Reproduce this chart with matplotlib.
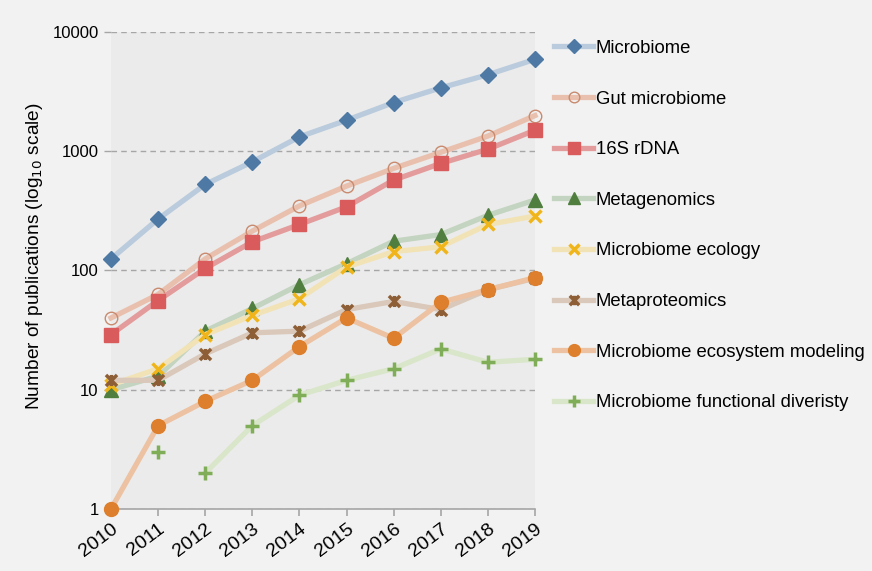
import numpy as np
import matplotlib as mpl
mpl.use('Agg')
import matplotlib.pyplot as plt
from matplotlib.path import Path

plt.rcParams['font.family'] = ['Liberation Sans', 'DejaVu Sans']

## Data ##
years = [2010, 2011, 2012, 2013, 2014, 2015, 2016, 2017, 2018, 2019]
names = ['Microbiome', 'Gut microbiome', '16S rDNA', 'Metagenomics',
         'Microbiome ecology', 'Metaproteomics',
         'Microbiome ecosystem modeling', 'Microbiome functional diveristy']
microbiome = [125, 270, 527, 815, 1320, 1820, 2560, 3400, 4380, 5900]
gut = [40, 63, 125, 214, 348, 510, 718, 980, 1340, 1990]
rdna16s = [29, 56, 104, 174, 243, 342, 573, 790, 1040, 1500]
metagenomics = [10, 13, 31, 48, 76, 114, 176, 200, 290, 390]
ecology = [11, 15, 29, 42, 58, 107, 144, 158, 243, 286]
metaproteomics = [12, 12, 20, 30, 31, 47, 55, 47, 69, 86]
ecosystem = [1, 5, 8, 12, 23, 40, 27, 54, 69, 87]
functional = [np.nan, 3, 2, 5, 9, 12, 15, 22, 17, 18]
yticks = [1, 10, 100, 1000, 10000]

## Styles ##
asterisk = Path([(-1, -1), (1, 1), (-1, 1), (1, -1), (0, -1), (0, 1)],
                [Path.MOVETO, Path.LINETO, Path.MOVETO, Path.LINETO,
                 Path.MOVETO, Path.LINETO])
series = [microbiome, gut, rdna16s, metagenomics, ecology, metaproteomics,
          ecosystem, functional]
lcol = ['#b9cbdc', '#e9c0ae', '#e39b9b', '#c3d4c0', '#f2e3b6', '#dac8ba',
        '#ecc2a2', '#d9e6c9']
mcol = ['#4e79a4', '#c98a6e', '#d95b5c', '#4f7e3f', '#f0b51a', '#8e5f36',
        '#dd7f2c', '#80ae58']
mk = ['D', 'o', 's', '^', 'x', asterisk, 'o', '+']
ms = [8, 9, 10, 10, 9, 8, 10, 10]

fig = plt.figure(figsize=(8.72, 5.71), dpi=100, facecolor='#f2f2f2')
ax = fig.add_axes([0.1273, 0.1086, 0.4862, 0.8354])
ax.set_facecolor('#ebebeb')

handles = []
for n in range(len(series)):
  y = np.array(series[n], dtype=float)
  filled = mk[n] in ['D', 's', '^'] or (mk[n] == 'o' and n != 1)
  mfc = mcol[n] if filled else 'none'
  mew = 2.5 if mk[n] in ['x', '+'] or n == 5 else 1.0
  if n == 7:
    # isolated first point, line starts 2012
    ax.plot(years[1:2], y[1:2], linestyle='none', marker=mk[n], ms=ms[n],
            mec=mcol[n], mfc=mfc, mew=mew, clip_on=False, zorder=3 + n)
    h, = ax.plot(years[2:], y[2:], color=lcol[n], lw=3.8, marker=mk[n],
                 ms=ms[n], mec=mcol[n], mfc=mfc, mew=mew, clip_on=False,
                 zorder=3 + n, label=names[n])
  else:
    h, = ax.plot(years, y, color=lcol[n], lw=3.8, marker=mk[n], ms=ms[n],
                 mec=mcol[n], mfc=mfc, mew=mew, clip_on=False,
                 zorder=3 + n, label=names[n])
  handles.append(h)

ax.set_yscale('log')
ax.set_ylim(1, 10000)
ax.set_xlim(2010, 2019)
ax.set_yticks(yticks)
ax.set_yticklabels([str(v) for v in yticks], fontsize=12)
ax.yaxis.set_minor_locator(mpl.ticker.NullLocator())
ax.set_xticks(years)
ax.set_xticklabels([str(v) for v in years], fontsize=14, rotation=37,
                   ha='right', rotation_mode='anchor')
ax.grid(axis='y', color='#a6a6a6', linestyle=(0, (4, 3)), lw=1.0)
ax.set_axisbelow(True)
for s in ['top', 'right', 'left']:
  ax.spines[s].set_visible(False)
ax.spines['bottom'].set_color('#a6a6a6')
ax.spines['bottom'].set_linewidth(1.2)
ax.tick_params(axis='x', color='#a6a6a6', length=5, width=1.2, pad=3)
ax.tick_params(axis='y', color='#a6a6a6', length=5, width=1.0, pad=4)
ax.set_ylabel('Number of publications (log$_{10}$ scale)', fontsize=13.8,
              labelpad=1)
ax.yaxis.set_label_coords(-0.155, 0.53)

fig.legend(handles=handles, loc='upper left', bbox_to_anchor=(0.627, 0.943),
           frameon=False, fontsize=13.3, labelspacing=1.82, handlelength=2.1,
           handletextpad=0.15, borderaxespad=0, markerscale=0.85)

fig.savefig('out.png', dpi=100, facecolor=fig.get_facecolor())
